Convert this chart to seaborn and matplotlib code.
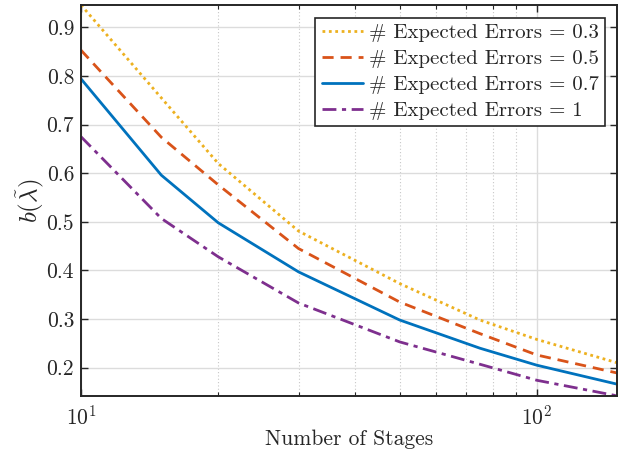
import numpy as np
import pandas as pd
import seaborn as sns
import matplotlib.pyplot as plt

# data
stages = [10, 15, 20, 30, 50, 75, 100, 150]
err_03 = [0.946, 0.755, 0.620, 0.481, 0.373, 0.298, 0.258, 0.210]
err_05 = [0.853, 0.674, 0.576, 0.445, 0.335, 0.270, 0.226, 0.189]
err_07 = [0.794, 0.596, 0.498, 0.397, 0.298, 0.240, 0.205, 0.166]
err_10 = [0.675, 0.507, 0.428, 0.333, 0.253, 0.207, 0.174, 0.142]
labels = ["# Expected Errors = 0.3", "# Expected Errors = 0.5",
          "# Expected Errors = 0.7", "# Expected Errors = 1"]

colors = ["#EDB120", "#D95319", "#0072BD", "#7E2F8E"]
styles = [(0, (1, 1.3)), (0, (4, 2.5)), "-", (0, (5, 2, 1.5, 2))]

sns.set_style("ticks")
plt.rcParams["font.family"] = "serif"
plt.rcParams["font.serif"] = ["cmr10", "DejaVu Serif"]
plt.rcParams["mathtext.fontset"] = "cm"
plt.rcParams["axes.formatter.use_mathtext"] = True

fig = plt.figure(figsize=(6.33, 4.55), dpi=100)
ax = fig.add_axes([0.128, 0.130, 0.847, 0.859])

for vals, lab, c, ls in zip([err_03, err_05, err_07, err_10], labels, colors, styles):
    df = pd.DataFrame({"stages": stages, "b": vals})
    sns.lineplot(data=df, x="stages", y="b", ax=ax, color=c, linewidth=2,
                 linestyle=ls, label=lab)

ax.set_xscale("log")
ax.set_xlim(10, 150)
ax.set_ylim(0.142, 0.946)
ax.set_yticks([0.2, 0.3, 0.4, 0.5, 0.6, 0.7, 0.8, 0.9])
ax.set_yticklabels(["0.2", "0.3", "0.4", "0.5", "0.6", "0.7", "0.8", "0.9"])

ax.grid(True, which="major", color="#dcdcdc", linewidth=1, linestyle="-")
ax.grid(True, which="minor", axis="x", color="#c8c8c8", linewidth=0.8, linestyle=(0, (1, 2)))
ax.set_axisbelow(True)

ax.tick_params(which="both", direction="in", top=True, right=True, colors="#262626",
               labelsize=15.5)
ax.tick_params(axis="y", pad=5)
ax.tick_params(axis="x", pad=6)
ax.tick_params(which="major", length=5, width=1)
ax.tick_params(which="minor", length=3, width=0.8)
for s in ax.spines.values():
    s.set_color("#262626")
    s.set_linewidth(1.4)

ax.set_xlabel("Number of Stages", fontsize=15.5, color="#262626", labelpad=1)
ax.set_ylabel(r"$b(\tilde{\boldsymbol{\lambda}})$", fontsize=18, color="#262626", labelpad=0)

leg = ax.legend(loc="upper right", fontsize=15, frameon=True, fancybox=False,
                edgecolor="#262626", framealpha=1, handlelength=2.0,
                handletextpad=0.25, borderpad=0.3, labelspacing=0.35,
                borderaxespad=0.6)
leg.get_frame().set_linewidth(1.2)

fig.savefig("out.png", dpi=100)
